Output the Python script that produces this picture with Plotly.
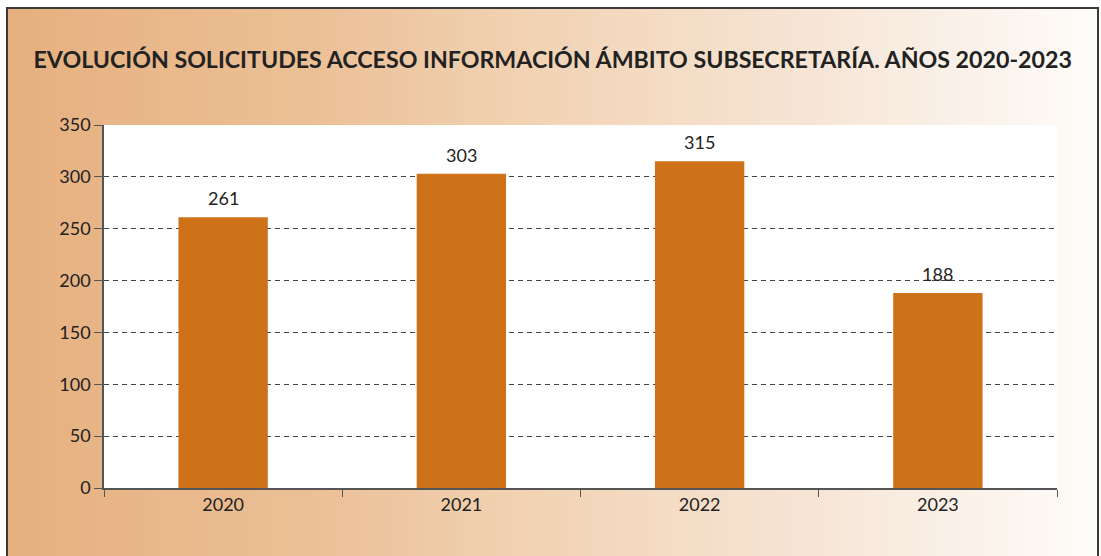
import plotly.graph_objects as go

years = ["2020", "2021", "2022", "2023"]
values = [261, 303, 315, 188]
title_text = "EVOLUCIÓN SOLICITUDES ACCESO INFORMACIÓN ÁMBITO SUBSECRETARÍA. AÑOS 2020-2023"

W, H = 1101, 556
L, R, T, B = 104, 44, 125, 68
pw, ph = W - L - R, H - T - B

def px2x(px):
    return (px - L) / pw

def py2y(py):
    return (H - B - py) / ph

# gradient stops (pixel x, rgb)
stops = [(8, (230, 176, 127)), (300, (235, 191, 149)), (550, (242, 212, 182)),
         (800, (246, 228, 212)), (1097, (254, 252, 250))]

def col_at(x):
    for (x0, c0), (x1, c1) in zip(stops[:-1], stops[1:]):
        if x0 <= x <= x1:
            t = (x - x0) / (x1 - x0)
            return "rgb(%d,%d,%d)" % tuple(round(a + (b - a) * t) for a, b in zip(c0, c1))
    return "rgb(%d,%d,%d)" % stops[-1][1]

shapes = []
step = 6
x = 8
while x < 1097:
    x2 = min(x + step, 1097)
    shapes.append(dict(type="rect", xref="paper", yref="paper",
                       x0=px2x(x), x1=px2x(x2 + 0.5), y0=py2y(600), y1=py2y(9),
                       fillcolor=col_at(x + step / 2), line=dict(width=0), layer="below"))
    x = x2
# white plot area
shapes.append(dict(type="rect", xref="paper", yref="paper", x0=0, x1=1, y0=0, y1=1,
                   fillcolor="white", line=dict(width=0), layer="below"))
# border
shapes.append(dict(type="rect", xref="paper", yref="paper",
                   x0=px2x(7), x1=px2x(1098), y0=py2y(620), y1=py2y(8),
                   fillcolor="rgba(0,0,0,0)", line=dict(color="#3a3a3a", width=2), layer="above"))

font_family = "Lato, 'Open Sans', sans-serif"

fig = go.Figure()
fig.add_trace(go.Bar(
    x=years, y=values, marker=dict(color="#CD7219", line=dict(width=0)),
    width=0.375, hoverinfo="x+y",
))

# value labels (x given as category index on the category axis)
for i, v in enumerate(values):
    fig.add_annotation(x=i, y=v, text=str(v), showarrow=False,
                       yanchor="bottom", yshift=6,
                       font=dict(size=18, color="#222", family=font_family))

fig.update_layout(
    width=W, height=H,
    margin=dict(l=L, r=R, t=T, b=B),
    paper_bgcolor="white", plot_bgcolor="rgba(0,0,0,0)",
    shapes=shapes,
    showlegend=False,
    font=dict(family=font_family, color="#222", size=18),
    title=dict(text="<b>" + title_text + "</b>", x=0.502, xanchor="center",
               y=1 - 60 / H, yanchor="middle",
               font=dict(size=23.2, color="#222", family=font_family)),
    xaxis=dict(type="category", range=[-0.5, len(years) - 0.5],
               showgrid=False, showline=True, linecolor="#555", linewidth=1.5,
               ticks="outside", tickson="boundaries", ticklen=7, tickcolor="#555",
               tickfont=dict(size=18), mirror=False),
    yaxis=dict(range=[0, 350], dtick=50, showgrid=True, gridcolor="#444",
               griddash="5px,4px", gridwidth=1, zeroline=False,
               showline=True, linecolor="#555", linewidth=1.5,
               ticks="outside", ticklen=8, tickcolor="#555",
               tickfont=dict(size=18)),
)

fig.write_html("out.html", config={"displayModeBar": False},
               post_script="document.body.style.margin='0';document.body.style.padding='0';")
